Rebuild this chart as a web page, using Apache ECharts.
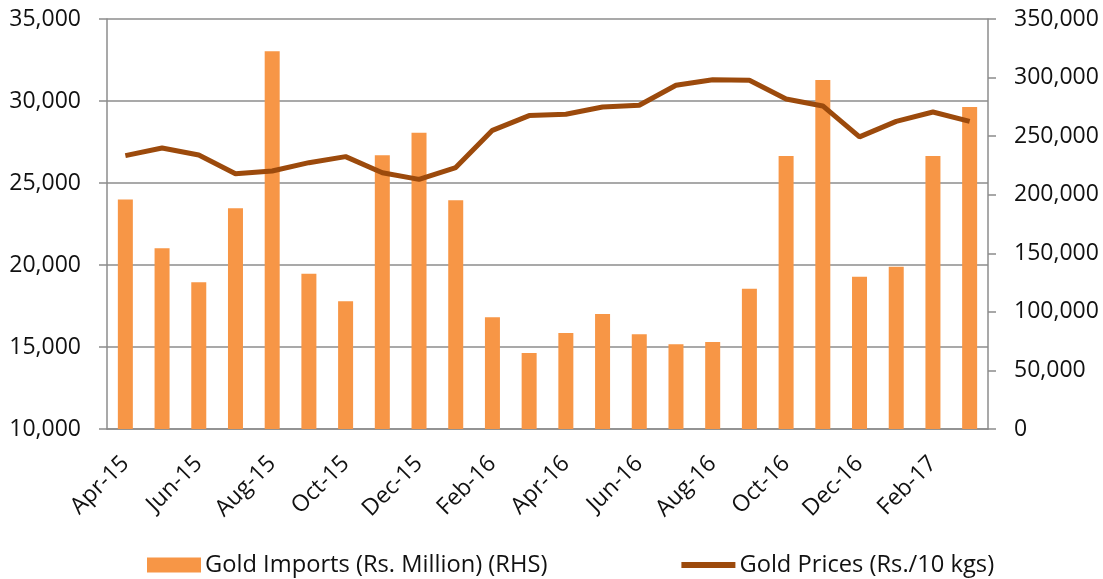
<!DOCTYPE html>
<html>
<head>
<meta charset="utf-8">
<script src="https://cdn.jsdelivr.net/npm/echarts@6/dist/echarts.min.js"></script>
<style>
  html, body { margin: 0; padding: 0; background: #fff; }
  #chart { width: 1103px; height: 579px; }
</style>
</head>
<body>
<div id="chart"></div>
<script>
// months Apr-15 .. Mar-17
var months = ['Apr-15', 'May-15', 'Jun-15', 'Jul-15', 'Aug-15', 'Sep-15', 'Oct-15', 'Nov-15',
  'Dec-15', 'Jan-16', 'Feb-16', 'Mar-16', 'Apr-16', 'May-16', 'Jun-16', 'Jul-16', 'Aug-16',
  'Sep-16', 'Oct-16', 'Nov-16', 'Dec-16', 'Jan-17', 'Feb-17', 'Mar-17']

// Gold Imports (Rs. Million), right axis
var goldImports = [196000, 154200, 125200, 188400, 322400, 132600, 109000, 233600,
  253000, 195200, 95300, 64900, 82000, 98200, 80800, 72300, 74300,
  119800, 233000, 297900, 130000, 138600, 233000, 274900]

// Gold Prices (Rs./10 kgs), left axis
var goldPrices = [26670, 27130, 26710, 25570, 25730, 26240, 26610, 25630,
  25220, 25940, 28210, 29110, 29190, 29630, 29740, 30960, 31290,
  31260, 30120, 29700, 27810, 28760, 29330, 28760]

var importsName = 'Gold Imports (Rs. Million) (RHS)'
var pricesName = 'Gold Prices (Rs./10 kgs)'

var FONT = 'Open Sans'
var FS = 23
var TXT = '#111'
var GRID_C = '#8c8c8c'
var LINE_C = '#9C4A0C'

function fmt(v) {
  return Number(v).toLocaleString('en-US')
}

var chart = echarts.init(document.getElementById('chart'))
chart.setOption({
  animation: false,
  textStyle: { fontFamily: FONT },
  grid: { left: 107, right: 115, top: 19, bottom: 150 },
  legend: {
    left: 147,
    top: 553,
    padding: 0,
    itemWidth: 54,
    itemHeight: 15,
    itemGap: 134,
    textStyle: { fontFamily: FONT, fontSize: 23.7, color: TXT, padding: [0, 0, 0, -1] },
    data: [
      { name: importsName, icon: 'rect' },
      { name: pricesName, icon: 'path://M0,0H54V6H0Z', itemStyle: { color: LINE_C } }
    ]
  },
  xAxis: {
    type: 'category',
    data: months,
    boundaryGap: true,
    axisLine: { lineStyle: { color: GRID_C, width: 1.5 } },
    axisTick: { interval: 1, length: 8, lineStyle: { color: GRID_C, width: 1.5 } },
    axisLabel: {
      interval: 1,
      rotate: 45,
      margin: 31,
      fontFamily: FONT,
      fontSize: FS,
      color: TXT
    }
  },
  yAxis: [
    {
      type: 'value',
      min: 10000,
      max: 35000,
      interval: 5000,
      position: 'left',
      axisLine: { show: true, lineStyle: { color: GRID_C, width: 1.5 } },
      axisTick: { show: true, length: 8, lineStyle: { color: GRID_C, width: 1.5 } },
      splitLine: { lineStyle: { color: GRID_C, width: 1.5 } },
      axisLabel: { margin: 26, fontFamily: FONT, fontSize: FS, color: TXT, formatter: fmt }
    },
    {
      type: 'value',
      min: 0,
      max: 350000,
      interval: 50000,
      position: 'right',
      axisLine: { show: true, lineStyle: { color: GRID_C, width: 1.5 } },
      axisTick: { show: true, length: 8, lineStyle: { color: GRID_C, width: 1.5 } },
      splitLine: { show: false },
      axisLabel: { margin: 26, fontFamily: FONT, fontSize: FS, color: TXT, formatter: fmt }
    }
  ],
  series: [
    {
      name: importsName,
      type: 'bar',
      yAxisIndex: 1,
      barWidth: 15,
      itemStyle: { color: '#F79646' },
      data: goldImports
    },
    {
      name: pricesName,
      type: 'line',
      yAxisIndex: 0,
      symbol: 'none',
      lineStyle: { color: LINE_C, width: 5 },
      itemStyle: { color: LINE_C },
      data: goldPrices
    }
  ]
})
</script>
</body>
</html>
